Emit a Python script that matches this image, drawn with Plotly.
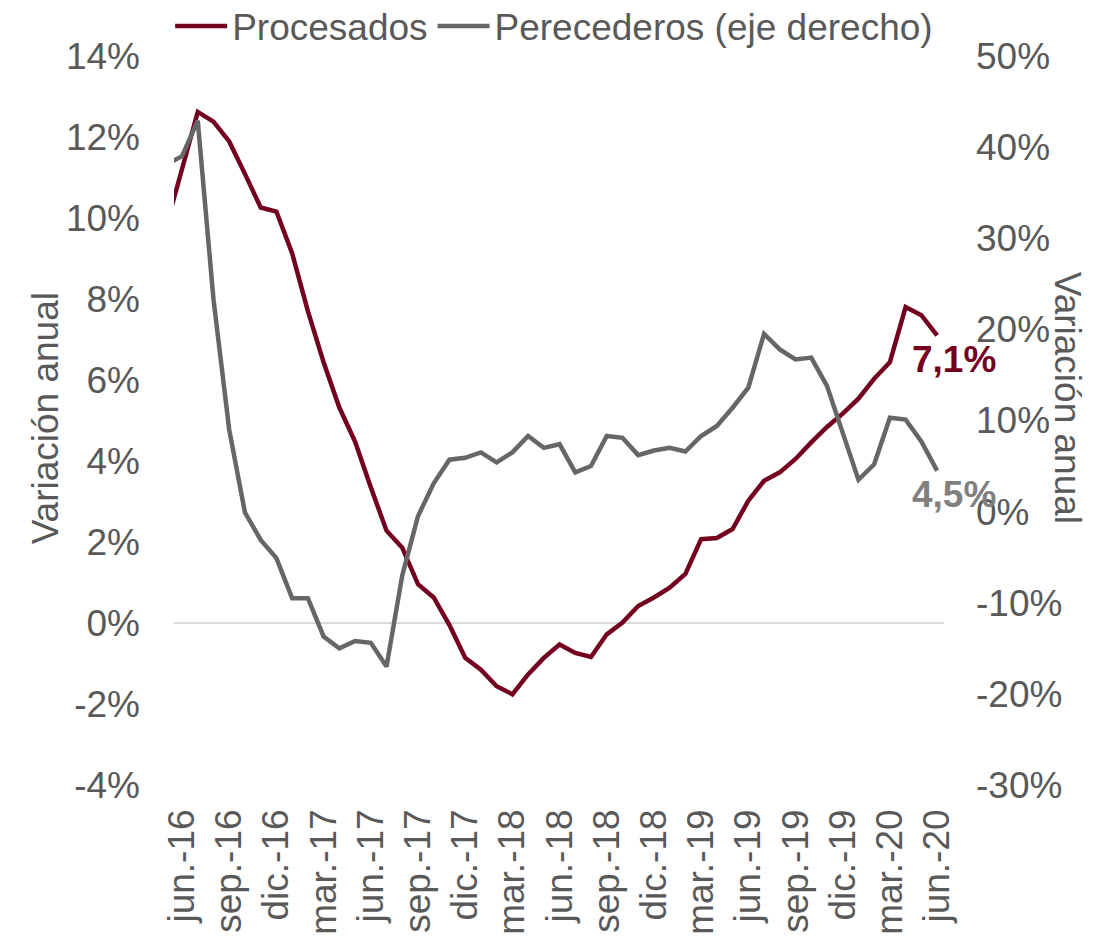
import plotly.graph_objects as go

# Months from may.-16 to jun.-20
abbr = ["ene.", "feb.", "mar.", "abr.", "may.", "jun.", "jul.", "ago.", "sep.", "oct.", "nov.", "dic."]
months = []
y, m = 2016, 4
while (y, m) <= (2020, 5):
    months.append(f"{abbr[m]}-{str(y)[2:]}")
    m += 1
    if m == 12:
        m = 0
        y += 1

procesados = [9.80, 11.24, 12.62, 12.38, 11.89, 11.09, 10.26, 10.16, 9.13, 7.70,
              6.44, 5.32, 4.48, 3.35, 2.28, 1.86, 0.96, 0.63, -0.05, -0.86,
              -1.15, -1.56, -1.76, -1.27, -0.86, -0.53, -0.74, -0.84, -0.28, 0.01,
              0.42, 0.63, 0.87, 1.21, 2.07, 2.10, 2.32, 3.02, 3.51, 3.72,
              4.05, 4.46, 4.84, 5.17, 5.54, 6.03, 6.44, 7.80, 7.60, 7.10]

perecederos = [38.1, 39.0, 42.9, 23.3, 9.0, -0.1, -3.1, -5.1, -9.5, -9.5,
               -13.7, -15.0, -14.2, -14.4, -17.0, -7.0, -0.5, 3.1, 5.7, 5.9,
               6.5, 5.4, 6.5, 8.3, 7.0, 7.4, 4.3, 5.0, 8.3, 8.1,
               6.2, 6.7, 7.0, 6.6, 8.3, 9.4, 11.4, 13.6, 19.5, 17.8,
               16.7, 16.9, 13.8, 8.7, 3.5, 5.2, 10.3, 10.1, 7.7, 4.5]

x_ticks = months[1::3]
left_vals = [-4, -2, 0, 2, 4, 6, 8, 10, 12, 14]
left_text = ["-4%", "-2%", "0%", "2%", "4%", "6%", "8%", "10%", "12%", "14%"]
right_vals = [-30, -20, -10, 0, 10, 20, 30, 40, 50]
right_text = ["-30%", "-20%", "-10%", "0%", "10%", "20%", "30%", "40%", "50%"]

RED = "#740020"
GRAY = "#666666"
TXT = "#595959"
FONT = "Liberation Sans, Arial, sans-serif"
FS = 37

fig = go.Figure()
fig.add_trace(go.Scatter(x=months, y=procesados, name="Procesados", mode="lines",
                         line=dict(color=RED, width=4.5), yaxis="y", cliponaxis=True))
fig.add_trace(go.Scatter(x=months, y=perecederos, name="Perecederos (eje derecho)", mode="lines",
                         line=dict(color=GRAY, width=4.5), yaxis="y2", cliponaxis=True))

fig.update_layout(
    width=1094, height=929,
    margin=dict(l=166, r=158, t=48, b=152, autoexpand=False),
    paper_bgcolor="white", plot_bgcolor="white",
    font=dict(family=FONT, size=FS, color=TXT),
    showlegend=True,
    legend=dict(orientation="h", x=-0.005, xanchor="left",
                y=1.083, yanchor="top", itemwidth=52,
                font=dict(size=FS, color=TXT), bgcolor="rgba(0,0,0,0)",
                tracegroupgap=0),
    xaxis=dict(type="category", range=[0.49, 49.44], tickmode="array",
               tickvals=x_ticks, ticktext=x_ticks, tickangle=-90, automargin=False,
               showgrid=False, zeroline=False, showline=False, ticks="",
               ticklabelstandoff=16, tickfont=dict(size=FS, color=TXT)),
    yaxis=dict(range=[-4, 14], tickmode="array", tickvals=left_vals, ticktext=left_text,
               showgrid=False, zeroline=True, zerolinecolor="#D9D9D9", zerolinewidth=1.5,
               showline=False, ticks="", ticklabelstandoff=33, automargin=False,
               tickfont=dict(size=FS, color=TXT)),
    yaxis2=dict(range=[-30, 50], overlaying="y", side="right", tickmode="array",
                tickvals=right_vals, ticktext=right_text, showgrid=False, zeroline=False,
                showline=False, ticks="", ticklabelstandoff=31, automargin=False,
                tickfont=dict(size=FS, color=TXT)),
    annotations=[
        dict(text="Variación anual", xref="paper", yref="paper", x=-0.1675, y=0.503,
             textangle=-90, showarrow=False, xanchor="center", yanchor="middle",
             font=dict(size=FS, color=TXT)),
        dict(text="Variación anual", xref="paper", yref="paper", x=1.16, y=0.531,
             textangle=90, showarrow=False, xanchor="center", yanchor="middle",
             font=dict(size=FS, color=TXT)),
        dict(text="<b>7,1%</b>", xref="x", yref="y", x=months[-1], y=procesados[-1],
             showarrow=False, xanchor="center", yanchor="middle", xshift=17, yshift=-24,
             font=dict(size=FS, color=RED)),
        dict(text="<b>4,5%</b>", xref="x", yref="y2", x=months[-1], y=perecederos[-1],
             showarrow=False, xanchor="center", yanchor="middle", xshift=17, yshift=-24,
             font=dict(size=FS, color="#808080")),
    ],
)

fig.write_html("out.html")
